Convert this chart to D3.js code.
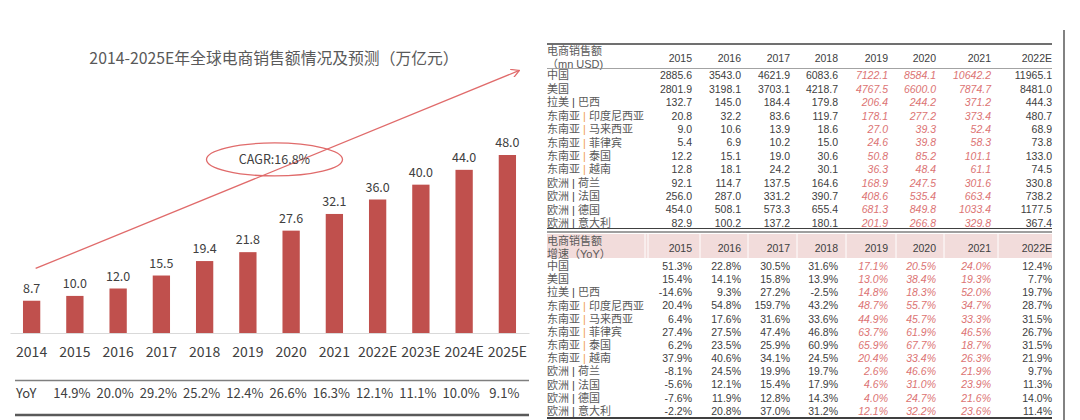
<!DOCTYPE html>
<html><head><meta charset="utf-8">
<script src="https://cdn.jsdelivr.net/npm/d3@7"></script>
<style>
html,body{margin:0;padding:0;background:#fff;}
svg{display:block;}
</style></head>
<body>
<svg id="c" width="1080" height="420"></svg>
<script>
// ---------- DATA ----------
const years = ["2014","2015","2016","2017","2018","2019","2020","2021","2022E","2023E","2024E","2025E"];
const sales = [8.7,10.0,12.0,15.5,19.4,21.8,27.6,32.1,36.0,40.0,44.0,48.0];
const yoyYears = ["2015","2016","2017","2018","2019","2020","2021","2022E","2023E","2024E","2025E"];
const yoy = [14.9,20.0,29.2,25.2,12.4,26.6,16.3,12.1,11.1,10.0,9.1];
const cagrLabel = "CAGR:16.8%";
const chartTitle = "2014-2025E年全球电商销售额情况及预测（万亿元）";

const tableYears = ["2015","2016","2017","2018","2019","2020","2021","2022E"];
const regionNames = ["中国","美国","拉美","东南亚","东南亚","东南亚","东南亚","东南亚","欧洲","欧洲","欧洲","欧洲"];
const countryNames = ["","","巴西","印度尼西亚","马来西亚","菲律宾","泰国","越南","荷兰","法国","德国","意大利"];
const salesChina     = [2885.6,3543.0,4621.9,6083.6,7122.1,8584.1,10642.2,11965.1];
const salesUSA       = [2801.9,3198.1,3703.1,4218.7,4767.5,6600.0,7874.7,8481.0];
const salesBrazil    = [132.7,145.0,184.4,179.8,206.4,244.2,371.2,444.3];
const salesIndonesia = [20.8,32.2,83.6,119.7,178.1,277.2,373.4,480.7];
const salesMalaysia  = [9.0,10.6,13.9,18.6,27.0,39.3,52.4,68.9];
const salesPhilippines = [5.4,6.9,10.2,15.0,24.6,39.8,58.3,73.8];
const salesThailand  = [12.2,15.1,19.0,30.6,50.8,85.2,101.1,133.0];
const salesVietnam   = [12.8,18.1,24.2,30.1,36.3,48.4,61.1,74.5];
const salesNetherlands = [92.1,114.7,137.5,164.6,168.9,247.5,301.6,330.8];
const salesFrance    = [256.0,287.0,331.2,390.7,408.6,535.4,663.4,738.2];
const salesGermany   = [454.0,508.1,573.3,655.4,681.3,849.8,1033.4,1177.5];
const salesItaly     = [82.9,100.2,137.2,180.1,201.9,266.8,329.8,367.4];

const growthChina     = [51.3,22.8,30.5,31.6,17.1,20.5,24.0,12.4];
const growthUSA       = [15.4,14.1,15.8,13.9,13.0,38.4,19.3,7.7];
const growthBrazil    = [-14.6,9.3,27.2,-2.5,14.8,18.3,52.0,19.7];
const growthIndonesia = [20.4,54.8,159.7,43.2,48.7,55.7,34.7,28.7];
const growthMalaysia  = [6.4,17.6,31.6,33.6,44.9,45.7,33.3,31.5];
const growthPhilippines = [27.4,27.5,47.4,46.8,63.7,61.9,46.5,26.7];
const growthThailand  = [6.2,23.5,25.9,60.9,65.9,67.7,18.7,31.5];
const growthVietnam   = [37.9,40.6,34.1,24.5,20.4,33.4,26.3,21.9];
const growthNetherlands = [-8.1,24.5,19.9,19.7,2.6,46.6,21.9,9.7];
const growthFrance    = [-5.6,12.1,15.4,17.9,4.6,31.0,23.9,11.3];
const growthGermany   = [-7.6,11.9,12.8,14.3,4.0,24.7,21.6,14.0];
const growthItaly     = [-2.2,20.8,37.0,31.2,12.1,32.2,23.6,11.4];
const forecastCols = ["2019","2020","2021"];

// ---------- LAYOUT ----------
const svg = d3.select("#c");
const FONT = "'Noto Sans CJK SC','Noto Sans',sans-serif";
const TFONT = "'Liberation Sans','Noto Sans CJK SC',sans-serif";
const TXT = "#404040";
const BAR = "#c0504d";
const ANNO = "#e06b6b";

// Left chart
const x = d3.scaleBand().domain(years).range([10,529]).paddingInner(0.6).paddingOuter(0.3);
const y = d3.scaleLinear().domain([0,48]).range([333,155]);
const xc = d => x(d) + x.bandwidth()/2;

svg.append("text").attr("x",274).attr("y",64).attr("text-anchor","middle")
  .attr("font-family",FONT).attr("font-size",15.8).attr("fill","#595959").text(chartTitle);

const gx = svg.append("g").attr("transform","translate(0,333)")
  .call(d3.axisBottom(x).tickSize(0).tickPadding(14));
gx.select(".domain").attr("stroke","#d9d9d9").attr("stroke-width",1.2);
gx.selectAll("text").attr("font-family",FONT).attr("font-size",14).attr("fill",TXT);

svg.append("g").selectAll("rect").data(years).join("rect")
  .attr("x",d=>x(d)).attr("width",x.bandwidth())
  .attr("y",(d,i)=>y(sales[i])).attr("height",(d,i)=>y(0)-y(sales[i]))
  .attr("fill",BAR);

svg.append("g").selectAll("text").data(years).join("text")
  .attr("x",d=>xc(d)).attr("y",(d,i)=>y(sales[i])-8).attr("text-anchor","middle")
  .attr("font-family",FONT).attr("font-size",12.5).attr("fill",TXT)
  .text((d,i)=>sales[i].toFixed(1));

// CAGR arrow
const defs = svg.append("defs");
defs.append("marker").attr("id","ah").attr("viewBox","0 0 10 10").attr("refX",9).attr("refY",5)
  .attr("markerWidth",9).attr("markerHeight",9).attr("orient","auto").attr("markerUnits","userSpaceOnUse")
  .append("path").attr("d","M0,0 L9,5 L0,10").attr("fill","none").attr("stroke",ANNO).attr("stroke-width",1.4);
svg.append("line")
  .attr("x1",xc("2014")+4).attr("y1",y(17.4))
  .attr("x2",xc("2025E")+12).attr("y2",y(70.8))
  .attr("stroke",ANNO).attr("stroke-width",1.3).attr("marker-end","url(#ah)");
const ex = (xc("2019")+xc("2020"))/2 + 5, ey = y(46.8);
svg.append("ellipse").attr("cx",ex).attr("cy",ey).attr("rx",68).attr("ry",16.5)
  .attr("fill","none").attr("stroke",ANNO).attr("stroke-width",1.3);
svg.append("text").attr("x",ex).attr("y",ey).attr("dy","0.35em").attr("text-anchor","middle")
  .attr("font-family",FONT).attr("font-size",12.5).attr("fill",TXT).text(cagrLabel);

// YoY row
svg.append("line").attr("x1",15).attr("x2",529).attr("y1",380.5).attr("y2",380.5)
  .attr("stroke","#7f7f7f").attr("stroke-width",1.5);
svg.append("line").attr("x1",15).attr("x2",529).attr("y1",415).attr("y2",415)
  .attr("stroke","#595959").attr("stroke-width",2.5);
svg.append("text").attr("x",16).attr("y",398).attr("font-family",FONT).attr("font-size",13)
  .attr("fill",TXT).text("YoY");
svg.append("g").selectAll("text").data(yoyYears).join("text")
  .attr("x",d=>xc(d)-3).attr("y",398).attr("text-anchor","middle")
  .attr("font-family",FONT).attr("font-size",13).attr("fill",TXT)
  .text((d,i)=>yoy[i].toFixed(1)+"%");

// ---------- Right tables ----------
const TL = 547, TR = 1052;
const col = d3.scaleOrdinal().domain(tableYears).range([692,741,790,838,888,936,991,1052]);
const salesRows = [salesChina,salesUSA,salesBrazil,salesIndonesia,salesMalaysia,salesPhilippines,salesThailand,salesVietnam,salesNetherlands,salesFrance,salesGermany,salesItaly];
const growthRows = [growthChina,growthUSA,growthBrazil,growthIndonesia,growthMalaysia,growthPhilippines,growthThailand,growthVietnam,growthNetherlands,growthFrance,growthGermany,growthItaly];
const rowIdx = d3.range(regionNames.length);
const PINK = "#dc7373";

// border line on right
svg.append("line").attr("x1",1064).attr("x2",1064).attr("y1",30).attr("y2",420)
  .attr("stroke","#595959").attr("stroke-width",1.5);

function label(g, yPos, i){
  const t = g.append("text").attr("x",TL).attr("y",yPos).attr("dy","0.36em")
    .attr("font-family",TFONT).attr("font-size",11).attr("fill","#595959");
  t.append("tspan").text(regionNames[i]);
  if(countryNames[i]){
    t.append("tspan").attr("fill", regionNames[i]==="东南亚" ? "#f0a050" : "#404040").text(" | ");
    t.append("tspan").text((regionNames[i]==="东南亚" && countryNames[i]==="印度尼西亚" ? " " : "") + countryNames[i]);
  }
}

function table(top, headerLines, rowsTop, rowsBottom, rows, fmt, pinkHeader){
  const g = svg.append("g");
  const yr = d3.scalePoint().domain(rowIdx).range([rowsTop, rowsBottom]);
  if(pinkHeader){
    g.append("rect").attr("x",TL).attr("y",top).attr("width",TR-TL).attr("height",24).attr("fill","#f2dcdb");
    const seps = [645,648,700,748,797,846,896,944,998];
    g.selectAll("line.sep").data(seps).join("line").attr("class","sep")
      .attr("x1",d=>d).attr("x2",d=>d).attr("y1",top).attr("y2",top+24)
      .attr("stroke","#fff").attr("stroke-width",1);
  }
  g.append("text").attr("x",TL).attr("y",top+7.5).attr("dy","0.36em")
    .attr("font-family",TFONT).attr("font-size",11).attr("fill","#595959").text(headerLines[0]);
  g.append("text").attr("x",TL).attr("y",top+20).attr("dy","0.36em")
    .attr("font-family",TFONT).attr("font-size",11).attr("fill","#595959").text(headerLines[1]);
  g.selectAll("text.hy").data(tableYears).join("text").attr("class","hy")
    .attr("x",d=>col(d)).attr("y",top+14).attr("dy","0.36em").attr("text-anchor","end")
    .attr("font-family",TFONT).attr("font-size",10.5).attr("fill",TXT).text(d=>d);
  rowIdx.forEach(i=>{
    label(g, yr(i), i);
    g.selectAll(null).data(tableYears).join("text")
      .attr("x",d=>col(d)).attr("y",yr(i)).attr("dy","0.36em").attr("text-anchor","end")
      .attr("font-family",TFONT).attr("font-size",10.5)
      .attr("fill",d=>forecastCols.includes(d)?PINK:TXT)
      .attr("font-style",d=>forecastCols.includes(d)?"italic":"normal")
      .text((d,j)=>fmt(rows[i][j]));
  });
  return g;
}

// Table 1
svg.append("line").attr("x1",TL).attr("x2",TR).attr("y1",44).attr("y2",44).attr("stroke","#404040").attr("stroke-width",1.5);
table(44, ["电商销售额","（mn USD)"], 75.5, 223, salesRows, v=>v.toFixed(1), false);
svg.append("line").attr("x1",TL).attr("x2",TR).attr("y1",68.5).attr("y2",68.5).attr("stroke","#8c8c8c").attr("stroke-width",0.8);
svg.append("line").attr("x1",TL).attr("x2",TR).attr("y1",228.5).attr("y2",228.5).attr("stroke","#404040").attr("stroke-width",1.2);
svg.append("line").attr("x1",TL).attr("x2",TR).attr("y1",232).attr("y2",232).attr("stroke","#404040").attr("stroke-width",1.2);

// Table 2
table(234, ["电商销售额","增速（YoY）"], 266, 411, growthRows, v=>v.toFixed(1)+"%", true);
svg.append("line").attr("x1",TL).attr("x2",TR).attr("y1",418).attr("y2",418).attr("stroke","#404040").attr("stroke-width",1.8);
</script>
</body></html>
